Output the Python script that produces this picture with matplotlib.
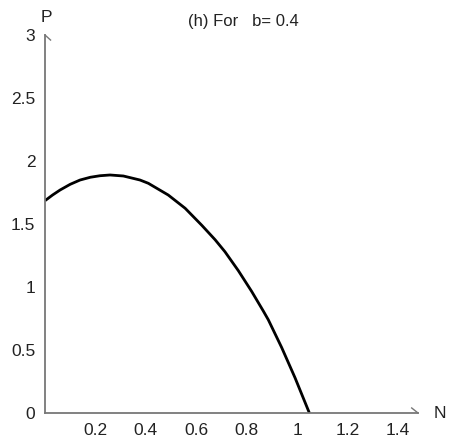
import matplotlib
matplotlib.use("Agg")
import matplotlib.pyplot as plt

plt.rcParams['font.family'] = ['Liberation Sans', 'DejaVu Sans']

# Prey density N and predator density P along the curve
N = [0.0, 0.03, 0.06, 0.10, 0.139, 0.18, 0.218, 0.258, 0.311, 0.377, 0.41,
     0.489, 0.556, 0.622, 0.675, 0.714, 0.767, 0.82, 0.866, 0.886, 0.939,
     0.992, 1.049]
P = [1.685, 1.73, 1.77, 1.815, 1.849, 1.871, 1.883, 1.889, 1.881, 1.849, 1.823,
     1.73, 1.625, 1.49, 1.375, 1.28, 1.13, 0.965, 0.81, 0.74, 0.52,
     0.28, 0.0]

x_ticks = [0.2, 0.4, 0.6, 0.8, 1.0, 1.2, 1.4]
x_tick_labels = ["0.2", "0.4", "0.6", "0.8", "1", "1.2", "1.4"]
y_ticks = [0, 0.5, 1, 1.5, 2, 2.5, 3]
y_tick_labels = ["0", "0.5", "1", "1.5", "2", "2.5", "3"]

fig = plt.figure(figsize=(4.53, 4.43), dpi=100)
ax = fig.add_axes([45/453, 30/443, 373/453, 378/443])
ax.set_xlim(0, 1.48)
ax.set_ylim(0, 3)

ax.plot(N, P, color='black', lw=2.0, solid_capstyle='butt', solid_joinstyle='round')

for s in ['top', 'right']:
    ax.spines[s].set_visible(False)
axis_col = '#777777'
for s in ['left', 'bottom']:
    ax.spines[s].set_color(axis_col)
    ax.spines[s].set_linewidth(1.3)

# half arrowheads at the ends of the axes
ax.plot([0, 0.022], [3, 2.96], color=axis_col, lw=1.0, clip_on=False)
ax.plot([1.48, 1.455], [0, 0.04], color=axis_col, lw=1.0, clip_on=False)

ax.set_xticks(x_ticks)
ax.set_xticklabels(x_tick_labels)
ax.set_yticks(y_ticks)
ax.set_yticklabels(y_tick_labels)
ax.tick_params(length=0, labelsize=12.5, colors='#222222', pad=7)

ax.text(0.007, 3.08, "P", fontsize=12.5, ha='center', va='bottom', color='#222222')
ax.text(1.565, 0.0, "N", fontsize=12.5, ha='center', va='center', color='#222222')
ax.text(0.786, 3.11, "(h) For   b= 0.4", fontsize=12, ha='center', va='center', color='#222222')

fig.savefig("out.png", dpi=100)
